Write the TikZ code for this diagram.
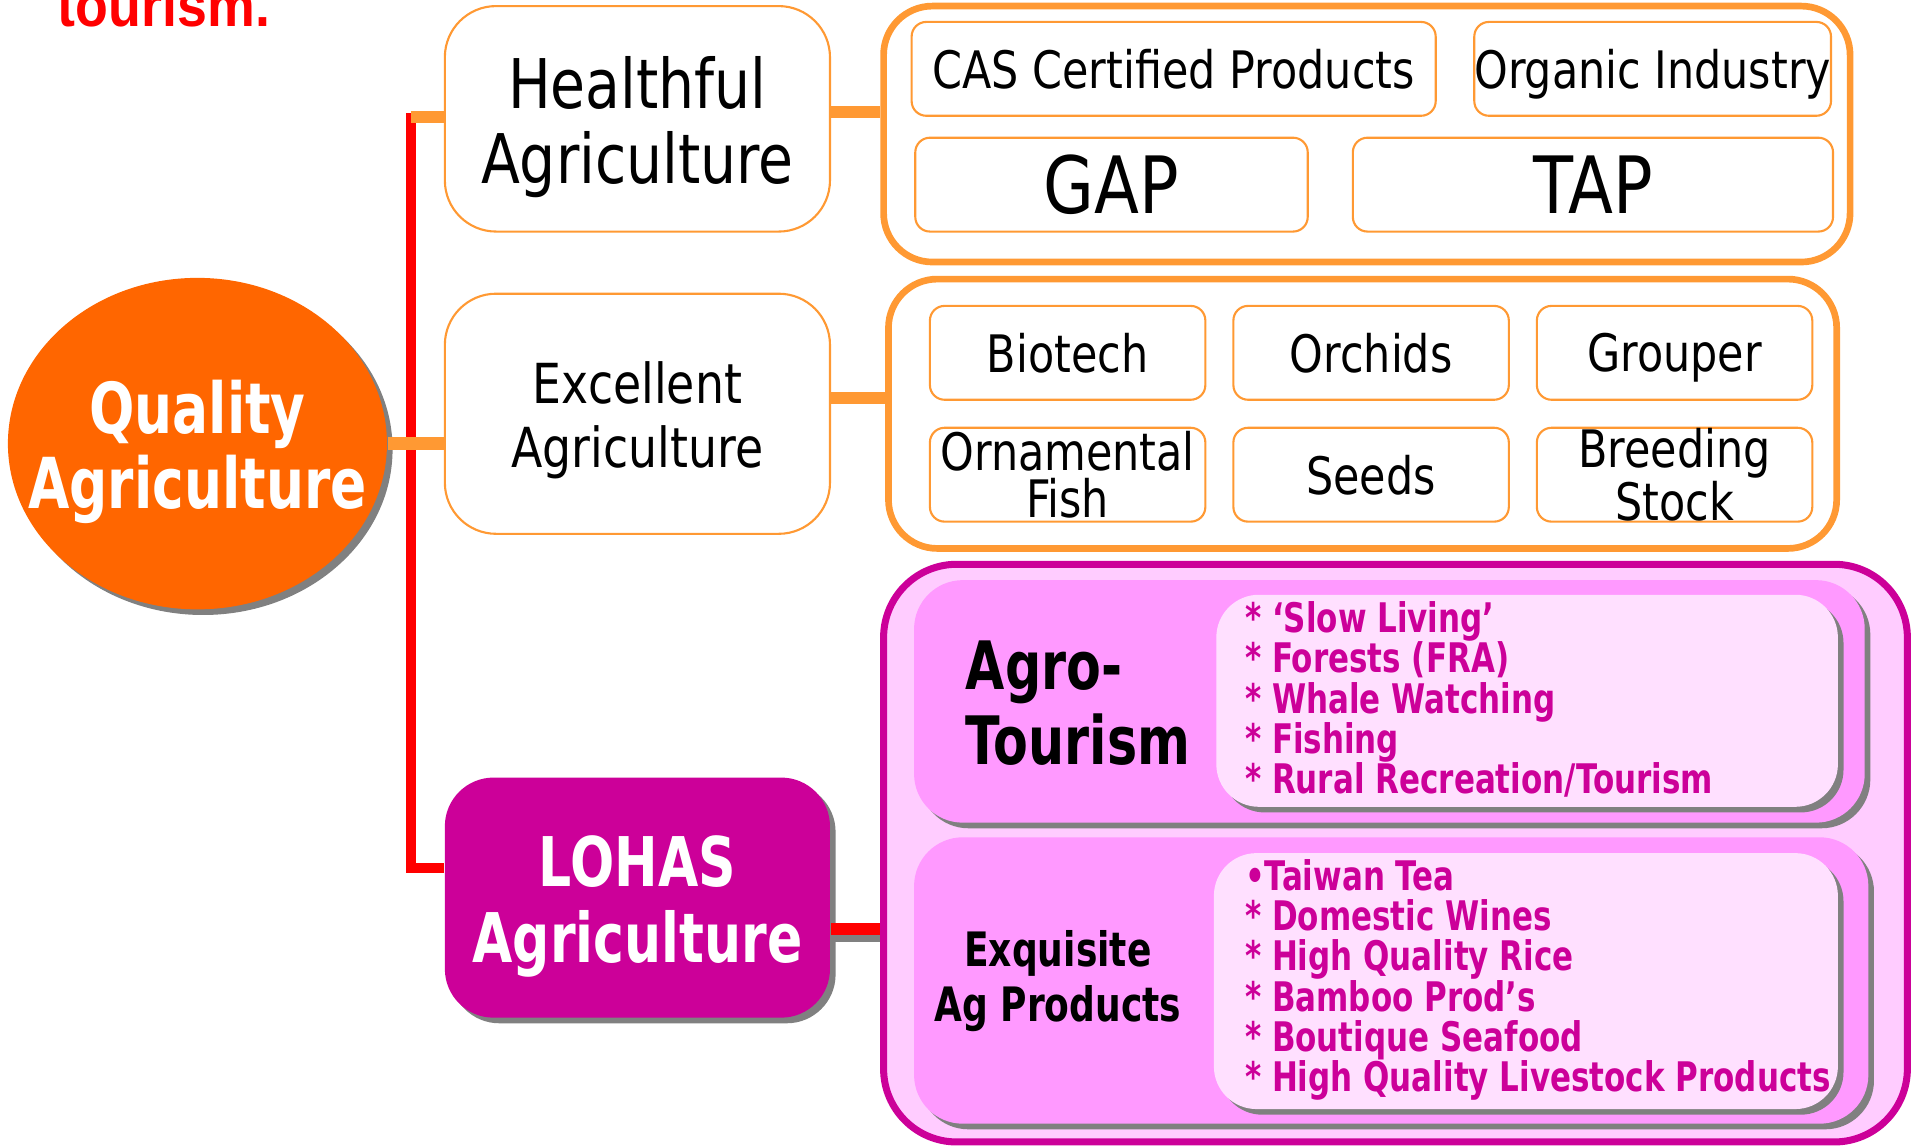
\documentclass[tikz,border=0pt]{standalone}
\usepackage{fontspec}
\setmainfont[FakeStretch=0.83,BoldFeatures={FakeStretch=0.76}]{DejaVu Sans}
\newfontfamily\captfont[FakeStretch=0.9]{Liberation Sans}
\usetikzlibrary{shapes.geometric,shadows}

\definecolor{qorange}{HTML}{FF6600}
\definecolor{lorange}{HTML}{FF9933}
\definecolor{lohasmag}{HTML}{CC0099}
\definecolor{pinkbg}{HTML}{FFCCFF}
\definecolor{pinkmid}{HTML}{FF99FF}
\definecolor{pinklight}{HTML}{FFE0FF}
\definecolor{shadowgray}{HTML}{808080}

\newlength\unitpx
\setlength\unitpx{0.012188cm}
% first-line strut, so two-line titles sit like the slide's
\newcommand\topstrut{\rule{0pt}{1em}}

\tikzset{
  sz/.style 2 args={minimum width=#1*\unitpx, minimum height=#2*\unitpx},
  grayshadow/.style={drop shadow={shadow xshift=1.6pt, shadow yshift=-1.6pt, fill=shadowgray, opacity=1}},
  tier/.style={draw=lorange, line width=0.6pt, fill=white, rounded corners=42*\unitpx,
    align=center, inner sep=0pt},
  group/.style={draw=lorange, line width=1.9pt, rounded corners=40*\unitpx, inner sep=0pt},
  item/.style={draw=lorange, line width=0.6pt, fill=white, rounded corners=12*\unitpx,
    align=center, inner sep=0pt, font=\fontsize{14.7}{13.5}\selectfont},
  oneline/.style={text depth=0pt},
  subgroup/.style={fill=pinkmid, rounded corners=40*\unitpx, inner sep=0pt, grayshadow},
  listbox/.style={fill=pinklight, rounded corners=35*\unitpx, inner sep=0pt, grayshadow},
  listtext/.style={anchor=west, align=left, text=lohasmag, inner sep=0pt,
    font=\bfseries\fontsize{11.6}{11.45}\selectfont},
  spine/.style={draw=red, line width=2.8pt},
  spineshadow/.style={draw=shadowgray, line width=2.8pt},
  link/.style={draw=lorange, line width=3.5pt},
}

\begin{document}
\begin{tikzpicture}[x=0.012188cm, y=-0.012188cm]
  \useasboundingbox (0,0) rectangle (1568,941);

  % caption remainder at the top
  \node[anchor=base west, text=red, inner sep=0pt,
    font=\captfont\bfseries\fontsize{17}{17}\selectfont] (capt) at (47,22) {tourism.};

  % main ellipse and the three tiers
  \node[ellipse, fill=qorange, sz={311}{272}, inner sep=0pt, grayshadow,
    label={[text=white, align=center, font=\bfseries\fontsize{20}{21.5}\selectfont]center:\topstrut Quality\\Agriculture}] (quality) at (162,364) {};
  \node[tier, sz={316}{185}, font=\fontsize{19.5}{21.5}\selectfont] (healthful) at (523,97.5) {\topstrut Healthful\\Agriculture};
  \node[tier, sz={316}{197}, font=\fontsize{15.7}{18}\selectfont] (excellent) at (523,339.5) {\topstrut Excellent\\Agriculture};
  \node[fill=lohasmag, text=white, sz={316}{197}, rounded corners=40*\unitpx, align=center, inner sep=0pt,
    font=\bfseries\fontsize{19.5}{21.8}\selectfont, grayshadow] (lohas) at (523,736.5) {\topstrut LOHAS\\Agriculture};

  % healthful group
  \node[group, sz={793}{210}] (grpA) at (1121.5,110) {};
  \node[item, oneline, sz={430}{77}] (cas) at (963,56.5) {CAS Certified Products};
  \node[item, oneline, sz={288}{77}] (organic) at (1356,56.5) {Organic Industry};
  \node[item, oneline, sz={322}{77}, font=\fontsize{22.5}{22.5}\selectfont] (gap) at (912,151.5) {GAP};
  \node[item, oneline, sz={394}{77}, font=\fontsize{22.5}{22.5}\selectfont] (tap) at (1307,151.5) {TAP};

  % excellent group
  \node[group, sz={778}{221}] (grpB) at (1118,339.5) {};
  \node[item, oneline, sz={226}{77}] (biotech) at (876,289.5) {Biotech};
  \node[item, oneline, sz={226}{77}] (orchids) at (1125,289.5) {Orchids};
  \node[item, oneline, sz={226}{77}] (grouper) at (1374,289.5) {Grouper};
  \node[item, sz={226}{77}] (ornfish) at (876,389.5) {Ornamental\\Fish};
  \node[item, oneline, sz={226}{77}] (seeds) at (1125,389.5) {Seeds};
  \node[item, sz={226}{77}] (breeding) at (1374,389.5) {Breeding\\Stock};

  % LOHAS group
  \node[draw=lohasmag, fill=pinkbg, line width=2pt, rounded corners=60*\unitpx, sz={840}{474}, inner sep=0pt] (grpC) at (1145,700) {};
  \node[subgroup, sz={780}{199}] (agro) at (1140,575.5) {};
  \node[listbox, sz={510}{174}] (agrobox) at (1253,575) {};
  \node[anchor=west, align=left, inner sep=0pt, font=\bfseries\fontsize{19}{21.5}\selectfont] (agrotitle) at (792,577) {Agro-\\Tourism};
  \node[listtext] (agroitems) at (1021,574) {* ‘Slow Living’\\* Forests (FRA)\\* Whale Watching\\* Fishing\\* Rural Recreation/Tourism};
  \node[subgroup, sz={783}{235}] (exq) at (1141.5,804.5) {};
  \node[listbox, sz={512}{210}] (exqbox) at (1252,805) {};
  \node[align=center, inner sep=0pt, font=\bfseries\fontsize{13.5}{15.6}\selectfont] (exqtitle) at (868,805) {Exquisite\\Ag Products};
  \node[listtext] (exqitems) at (1021,804) {•Taiwan Tea\\* Domestic Wines\\* High Quality Rice\\* Bamboo Prod’s\\* Boutique Seafood\\* High Quality Livestock Products};

  % connectors
  \coordinate (spinetop) at (337,93);
  \coordinate (spinebot) at (337,712);
  \draw[spineshadow, xshift=2.4pt, yshift=-1.8pt] (spinetop) -- (spinebot) -- (spinebot -| lohas.west);
  \draw[spine] (spinetop) -- (spinebot) -- (spinebot -| lohas.west);
  \draw[link] (337,96) -- (healthful.west |- 0,96);
  \draw[link] (quality.east) -- (quality.east -| excellent.west);
  \draw[link] ([yshift=2pt]healthful.east) -- ([yshift=2pt]healthful.east -| grpA.west);
  \draw[link] ([yshift=4.5pt]excellent.east) -- ([yshift=4.5pt]excellent.east -| grpB.west);
  \draw[draw=shadowgray, line width=3.4pt] ([yshift=-11pt]lohas.east) -- ([yshift=-11pt]lohas.east -| grpC.west);
  \draw[draw=red, line width=3.4pt] ([yshift=-9pt]lohas.east) -- ([yshift=-9pt]lohas.east -| grpC.west);
\end{tikzpicture}
\end{document}
